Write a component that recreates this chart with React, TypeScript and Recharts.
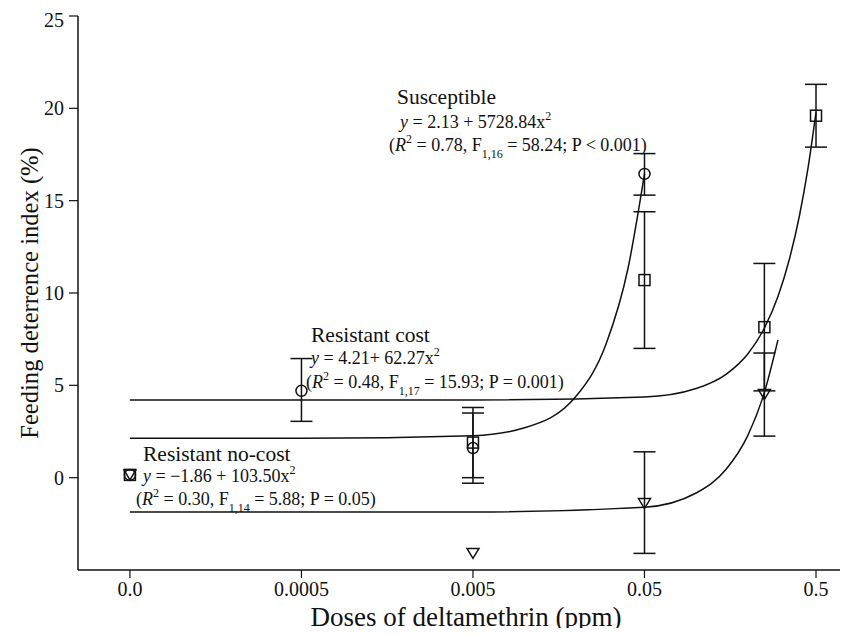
import React from "react";
import { ComposedChart, Line, Scatter, XAxis, YAxis, ErrorBar } from "recharts";

// dose 0 is drawn one decade below 0.0005 on the log axis
const ZERO_AT = 0.00005;
const xTicks = [0.00005, 0.0005, 0.005, 0.05, 0.5];
const xTickLabels = ["0.0", "0.0005", "0.005", "0.05", "0.5"];
const yTicks = [0, 5, 10, 15, 20, 25];

// observed means with lower / upper error limits (null = no bar)
const suscDoses = [0, 0.0005, 0.005, 0.05];
const suscMean = [0.15, 4.7, 1.6, 16.45];
const suscLow = [null, 3.05, -0.3, 15.3];
const suscHigh = [null, 6.45, 3.5, 17.55];

const costDoses = [0, 0.005, 0.05, 0.25, 0.5];
const costMean = [0.15, 1.9, 10.7, 8.15, 19.6];
const costLow = [null, 0.0, 7.0, 4.7, 17.9];
const costHigh = [null, 3.8, 14.4, 11.6, 21.3];

const noCostDoses = [0, 0.005, 0.05, 0.25];
const noCostMean = [0.15, -4.1, -1.4, 4.5];
const noCostLow = [null, null, -4.1, 2.25];
const noCostHigh = [null, null, 1.4, 6.75];

// fitted curves
const suscCurveDoses = [0, 0.0005, 0.005, 0.01, 0.02, 0.03, 0.04, 0.05];
const suscCurveY = [2.13, 2.13, 2.27, 2.7, 4.42, 7.29, 11.3, 16.45];
const costCurveDoses = [0, 0.0005, 0.005, 0.05, 0.1, 0.15, 0.2, 0.25, 0.3, 0.35, 0.4, 0.45, 0.5];
const costCurveY = [4.21, 4.21, 4.21, 4.37, 4.83, 5.61, 6.7, 8.1, 9.81, 11.84, 14.17, 16.82, 19.78];
const noCostCurveDoses = [0, 0.0005, 0.005, 0.05, 0.1, 0.15, 0.2, 0.25, 0.3];
const noCostCurveY = [-1.86, -1.86, -1.86, -1.6, -0.83, 0.47, 2.28, 4.61, 7.46];

const FONT = "'Liberation Serif', 'Times New Roman', serif";
const INK = "#111";

const pos = (d: number) => (d === 0 ? ZERO_AT : d);

function points(doses: number[], mean: number[], low: (number | null)[], high: (number | null)[]) {
  return doses.map((d, i) => ({
    x: pos(d),
    y: mean[i],
    err: low[i] == null ? null : [mean[i] - (low[i] as number), (high[i] as number) - mean[i]],
  }));
}

function curve(doses: number[], ys: number[]) {
  return doses.map((d, i) => ({ x: pos(d), y: ys[i] }));
}

const suscPts = points(suscDoses, suscMean, suscLow, suscHigh);
const costPts = points(costDoses, costMean, costLow, costHigh);
const noCostPts = points(noCostDoses, noCostMean, noCostLow, noCostHigh);

const CircleMark = (p: any) => (
  <circle cx={p.cx} cy={p.cy} r={5.5} fill="none" stroke={INK} strokeWidth={1.5} />
);
const SquareMark = (p: any) => (
  <rect x={p.cx - 5.5} y={p.cy - 5.5} width={11} height={11} fill="none" stroke={INK} strokeWidth={1.5} />
);
const TriangleMark = (p: any) => (
  <path
    d={`M${p.cx - 6},${p.cy - 5} L${p.cx + 6},${p.cy - 5} L${p.cx},${p.cy + 5} Z`}
    fill="none"
    stroke={INK}
    strokeWidth={1.5}
  />
);

function Sup() {
  return (
    <tspan fontSize={12} dy={-8}>
      2
    </tspan>
  );
}

function Params({ x, y, text1, sub, text2 }: { x: number; y: number; text1: string; sub: string; text2: string }) {
  return (
    <text fontFamily={FONT} fill={INK} fontSize={18} x={x} y={y}>
      (<tspan fontStyle="italic">R</tspan>
      <Sup />
      <tspan dy={8}>{text1}</tspan>
      <tspan fontSize={12} dy={7}>
        {sub}
      </tspan>
      <tspan dy={-7}>{text2}</tspan>
    </text>
  );
}

export default function App() {
  const txt = { fontFamily: FONT, fill: INK } as const;
  const tickStyle = { fill: INK, fontSize: 20, fontFamily: FONT };
  return (
    <div style={{ position: "relative", width: 840, height: 620, fontFamily: FONT }}>
      <ComposedChart width={840} height={620} margin={{ top: 8, right: 8, bottom: 0, left: 0 }}>
        <XAxis
          dataKey="x"
          type="number"
          scale="log"
          domain={[0.0000249, 0.69]}
          allowDataOverflow
          ticks={xTicks}
          tickFormatter={(v: number) => xTickLabels[xTicks.indexOf(v)] ?? ""}
          height={58}
          tickSize={8}
          tickMargin={4}
          axisLine={{ stroke: INK, strokeWidth: 1.5 }}
          tickLine={{ stroke: INK, strokeWidth: 1.2 }}
          tick={tickStyle}
        />
        <YAxis
          dataKey="y"
          type="number"
          domain={[-5, 25]}
          allowDataOverflow
          ticks={yTicks}
          width={70}
          tickSize={9}
          tickMargin={5}
          axisLine={{ stroke: INK, strokeWidth: 1.5 }}
          tickLine={{ stroke: INK, strokeWidth: 1.2 }}
          tick={tickStyle}
        />
        <Line data={curve(suscCurveDoses, suscCurveY)} dataKey="y" type="monotone" stroke={INK} strokeWidth={1.5} dot={false} isAnimationActive={false} />
        <Line data={curve(costCurveDoses, costCurveY)} dataKey="y" type="monotone" stroke={INK} strokeWidth={1.5} dot={false} isAnimationActive={false} />
        <Line data={curve(noCostCurveDoses, noCostCurveY)} dataKey="y" type="monotone" stroke={INK} strokeWidth={1.5} dot={false} isAnimationActive={false} />
        <Scatter data={suscPts} dataKey="y" shape={CircleMark} isAnimationActive={false}>
          <ErrorBar dataKey="err" direction="y" width={11} stroke={INK} strokeWidth={1.5} />
        </Scatter>
        <Scatter data={costPts} dataKey="y" shape={SquareMark} isAnimationActive={false}>
          <ErrorBar dataKey="err" direction="y" width={11} stroke={INK} strokeWidth={1.5} />
        </Scatter>
        <Scatter data={noCostPts} dataKey="y" shape={TriangleMark} isAnimationActive={false}>
          <ErrorBar dataKey="err" direction="y" width={11} stroke={INK} strokeWidth={1.5} />
        </Scatter>
      </ComposedChart>
      <svg
        width={840}
        height={620}
        style={{ position: "absolute", left: 0, top: 0, overflow: "visible", pointerEvents: "none" }}
      >
        <text {...txt} fontSize={24.6} textAnchor="middle" transform="translate(30,285) rotate(-90)">
          Feeding deterrence index (%)
        </text>
        <text {...txt} fontSize={27} x={458} y={618} textAnchor="middle">
          Doses of deltamethrin (ppm)
        </text>

        <text {...txt} fontSize={21.5} x={389} y={96}>Susceptible</text>
        <text {...txt} fontSize={18} x={392} y={120}>
          <tspan fontStyle="italic">y</tspan> = 2.13 + 5728.84x<Sup />
        </text>
        <Params x={381} y={143} text1=" = 0.78, F" sub="1,16" text2=" = 58.24; P < 0.001)" />

        <text {...txt} fontSize={21.5} x={303} y={334}>Resistant cost</text>
        <text {...txt} fontSize={18} x={303} y={356}>
          <tspan fontStyle="italic">y</tspan> = 4.21+ 62.27x<Sup />
        </text>
        <Params x={298} y={380} text1=" = 0.48, F" sub="1,17" text2=" = 15.93; P = 0.001)" />

        <text {...txt} fontSize={21.5} x={135} y={453}>Resistant no-cost</text>
        <text {...txt} fontSize={18} x={135} y={474}>
          <tspan fontStyle="italic">y</tspan> = −1.86 + 103.50x<Sup />
        </text>
        <Params x={128} y={497} text1=" = 0.30, F" sub="1,14" text2=" = 5.88; P = 0.05)" />
      </svg>
    </div>
  );
}
